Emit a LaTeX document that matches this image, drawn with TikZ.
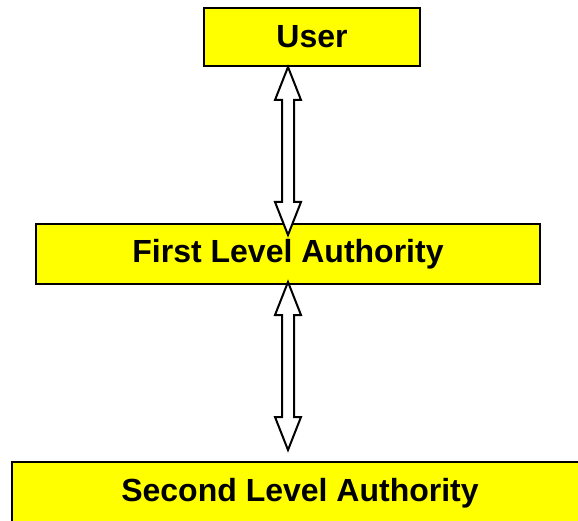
\documentclass[tikz,border=0pt]{standalone}
\usepackage{fontspec}
\setmainfont{Liberation Sans}
\usetikzlibrary{calc}
\definecolor{boxyellow}{RGB}{255,255,0}
\tikzset{
  levelbox/.style={draw=black, line width=2pt, fill=boxyellow, inner sep=0pt,
    minimum height=58pt, font=\fontsize{32}{38}\selectfont\bfseries},
  barrow/.style={draw=black, line width=2pt, fill=white, line join=miter}
}
\newcommand\dblarrow[2]{\draw[barrow] let \p1=(#1), \p2=(#2) in
  (\x1,\y1) -- (\x1+13pt,\y1-33pt) -- (\x1+6pt,\y1-33pt) -- (\x1+6pt,\y2+33pt)
  -- (\x1+13pt,\y2+33pt) -- (\x2,\y2) -- (\x1-13pt,\y2+33pt) -- (\x1-6pt,\y2+33pt)
  -- (\x1-6pt,\y1-33pt) -- (\x1-13pt,\y1-33pt) -- cycle;}
\begin{document}
\begin{tikzpicture}[x=1pt,y=1pt]
\useasboundingbox (0,0) rectangle (578,520);
\node[levelbox, minimum width=216pt] (user) at (312,483) {User};
\node[levelbox, minimum width=504pt, minimum height=60pt] (first) at (288,266) {First Level Authority};
\node[levelbox, minimum width=576pt, minimum height=62pt] (second) at (300,27) {Second Level Authority};
\coordinate (a1t) at (288,453);
\coordinate (a1b) at (288,285);
\coordinate (a2t) at (288,238);
\coordinate (a2b) at (288,70);
\dblarrow{a1t}{a1b}
\dblarrow{a2t}{a2b}
\end{tikzpicture}
\end{document}
